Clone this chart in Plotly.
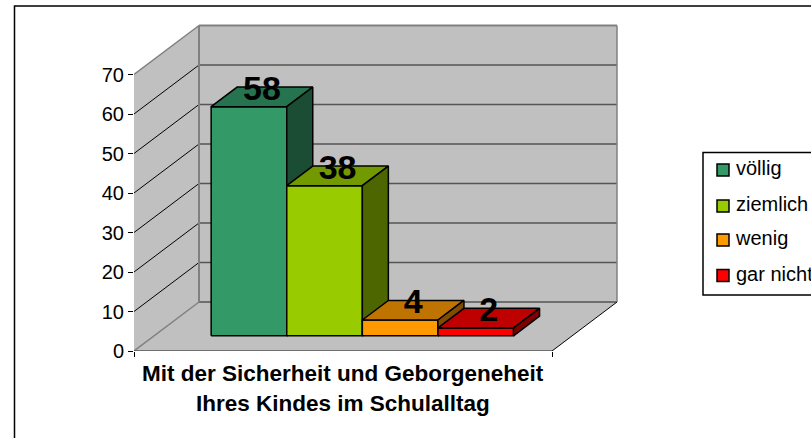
import plotly.graph_objects as go

categories = ["völlig", "ziemlich", "wenig", "gar nicht"]
values = [58, 38, 4, 2]
front_colors = ["#339966", "#99CC00", "#FF9900", "#FF0000"]
top_colors = ["#267350", "#739900", "#BF7300", "#BF0000"]
side_colors = ["#1A4D33", "#4D6600", "#804D00", "#800000"]
y_ticks = [0, 10, 20, 30, 40, 50, 60, 70]
title_lines = ["Mit der Sicherheit und Geborgeneheit", "Ihres Kindes im Schulalltag"]

W, H = 811, 438
L, R, T, B = 134, 811, 0, 351       # plot box in page pixels
PX_X, PX_Y = 75.6, 3.95             # pixels per category / per value unit
WALL_W = 418 / PX_X
WALL_TOP = 70
DX, DY = 65 / PX_X, 49 / PX_Y       # oblique offset of the full depth
BAR0 = 57 / PX_X                    # first bar start along the floor
D0, D1 = 0.31, 0.71                 # bar depth span
LEG_MARK_X, LEG_TEXT_GAP = 723, 7   # legend layout in page pixels
LEG_ROWS = [170, 206, 240, 275.5]


def pr(c, v, d):
    return c + d * DX, v + d * DY


def px_x(px):
    return (px - L) / PX_X


def px_y(px):
    return (B - px) / PX_Y


def poly(pts, fill, line="black", width=1.5):
    xs, ys = zip(*pts)
    return go.Scatter(x=list(xs) + [xs[0]], y=list(ys) + [ys[0]], mode="lines", fill="toself",
                      fillcolor=fill, line=dict(color=line, width=width), hoverinfo="skip", showlegend=False)


def seg(a, b, color, width):
    return go.Scatter(x=[a[0], b[0]], y=[a[1], b[1]], mode="lines", line=dict(color=color, width=width),
                      hoverinfo="skip", showlegend=False)


fig = go.Figure()
# walls and floor
fig.add_trace(poly([pr(0, 0, 0), pr(0, WALL_TOP, 0), pr(0, WALL_TOP, 1), pr(0, 0, 1)], "#C0C0C0", "#C0C0C0", 0))
fig.add_trace(poly([pr(0, 0, 1), pr(0, WALL_TOP, 1), pr(WALL_W, WALL_TOP, 1), pr(WALL_W, 0, 1)], "#C0C0C0", "#C0C0C0", 0))
fig.add_trace(poly([pr(0, 0, 0), pr(0, 0, 1), pr(WALL_W, 0, 1), pr(WALL_W, 0, 0)], "#C0C0C0", "#C0C0C0", 0))
# gridlines
for v in y_ticks[1:-1]:
    fig.add_trace(seg(pr(0, v, 0), pr(0, v, 1), "black", 1))
    fig.add_trace(seg(pr(0, v, 1), pr(WALL_W, v, 1), "#555555", 1.5))
fig.add_trace(seg(pr(0, 0, 1), pr(WALL_W, 0, 1), "#6e6e6e", 2))
# wall edges
fig.add_trace(seg(pr(0, WALL_TOP, 0), pr(0, WALL_TOP, 1), "#808080", 1.5))
fig.add_trace(seg(pr(0, WALL_TOP, 1), pr(WALL_W, WALL_TOP, 1), "#808080", 2))
fig.add_trace(seg(pr(0, 0, 1), pr(0, WALL_TOP, 1), "#808080", 2))
fig.add_trace(seg(pr(WALL_W, 0, 1), pr(WALL_W, WALL_TOP, 1), "#808080", 1.5))
fig.add_trace(seg(pr(0, 0, 0), pr(0, 0, 1), "#808080", 1.5))
fig.add_trace(seg(pr(0, 0, 0), pr(WALL_W, 0, 0), "#555555", 1.5))
fig.add_trace(seg(pr(WALL_W, 0, 0), pr(WALL_W, 0, 1), "black", 1))
# bars
for i, v in enumerate(values):
    a, b = BAR0 + i, BAR0 + i + 1
    fig.add_trace(poly([pr(a, 0, D0), pr(b, 0, D0), pr(b, v, D0), pr(a, v, D0)], front_colors[i]))
    fig.add_trace(poly([pr(a, v, D0), pr(b, v, D0), pr(b, v, D1), pr(a, v, D1)], top_colors[i]))
    fig.add_trace(poly([pr(b, 0, D0), pr(b, 0, D1), pr(b, v, D1), pr(b, v, D0)], side_colors[i]))
# data labels
lx = [BAR0 + i + 0.5 + (D0 + D1) / 2 * DX for i in range(4)]
ly = [v + D1 * DY - 1 for v in values]
fig.add_trace(go.Scatter(x=lx, y=ly, mode="text", text=[str(v) for v in values], textposition="middle center",
                         textfont=dict(family="Liberation Sans", size=34, color="black", weight="bold"),
                         hoverinfo="skip", showlegend=False, cliponaxis=False))
# legend entries, drawn on the axes so the swatch/text gap matches the reference
for name, col, row in zip(categories, front_colors, LEG_ROWS):
    fig.add_trace(go.Scatter(x=[px_x(LEG_MARK_X)], y=[px_y(row)], mode="markers", name=name,
                             marker=dict(symbol="square", size=12, color=col, line=dict(color="black", width=1.5)),
                             hoverinfo="name", showlegend=False, cliponaxis=False))
    fig.add_trace(go.Scatter(x=[px_x(LEG_MARK_X + 6 + LEG_TEXT_GAP)], y=[px_y(row)], mode="text", text=[name],
                             textposition="middle right",
                             textfont=dict(family="Liberation Sans", size=20, color="black"),
                             hoverinfo="skip", showlegend=False, cliponaxis=False))

fig.update_layout(
    width=W, height=H, autosize=False, showlegend=False,
    paper_bgcolor="white", plot_bgcolor="rgba(0,0,0,0)",
    margin=dict(l=L, r=W - R, t=T, b=H - B, autoexpand=False),
    xaxis=dict(range=[0, (R - L) / PX_X], showgrid=False, zeroline=False, showline=False,
               tickmode="array", tickvals=[0, WALL_W], ticktext=["", ""], ticks="outside", ticklen=5,
               tickcolor="black", tickwidth=1),
    yaxis=dict(range=[0, (B - T) / PX_Y], showgrid=False, zeroline=False, showline=False,
               tickmode="array", tickvals=y_ticks, ticks="outside", ticklen=5, tickcolor="black", tickwidth=1,
               tickfont=dict(family="Liberation Sans", size=20, color="black")),
    shapes=[
        dict(type="rect", xref="paper", yref="paper", x0=(14.5 - L) / (R - L), x1=(830 - L) / (R - L),
             y0=(B - 460) / (B - T), y1=(B - 6) / (B - T), line=dict(color="black", width=1.5)),
        dict(type="rect", xref="paper", yref="paper", x0=(703 - L) / (R - L), x1=(830 - L) / (R - L),
             y0=(B - 295) / (B - T), y1=(B - 152.5) / (B - T), line=dict(color="black", width=1.5)),
    ],
    annotations=[dict(x=WALL_W / 2, xref="x", y=(B - 374) / (B - T), yref="paper", yanchor="middle",
                      text=title_lines[0], showarrow=False,
                      font=dict(family="Liberation Sans", size=22.5, color="black", weight="bold")),
                 dict(x=WALL_W / 2, xref="x", y=(B - 403) / (B - T), yref="paper", yanchor="middle",
                      text=title_lines[1], showarrow=False,
                      font=dict(family="Liberation Sans", size=22.5, color="black", weight="bold"))],
)
fig.write_html("out.html", config=dict(displayModeBar=False),
               post_script="document.body.style.margin='0';document.documentElement.style.overflow='hidden';")
